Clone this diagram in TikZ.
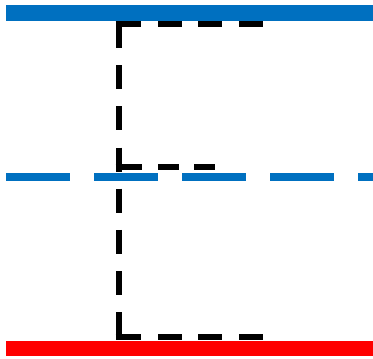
\documentclass[tikz,border=0pt]{standalone}
\usepackage{xcolor}
\definecolor{barblue}{HTML}{0070C0}
\definecolor{barred}{HTML}{FF0000}

\begin{document}
\begin{tikzpicture}[x=1pt,y=-1pt,
    bluebar/.style={draw=barblue, line width=16pt},
    bluedashed/.style={draw=barblue, line width=8pt, dash pattern=on 64pt off 24pt},
    redbar/.style={draw=barred, line width=15pt},
    vdashed/.style={draw=black, line width=6pt, dash pattern=on 24pt off 17.17pt},
    hdashed/.style={draw=black, line width=6pt,
        dash pattern=on 25.5pt off 17pt on 23.5pt off 16.5pt on 23.5pt off 17.5pt on 23.5pt off 20pt},
    mdashed/.style={draw=black, line width=6pt,
        dash pattern=on 26.5pt off 16pt on 20.5pt off 15.5pt on 20.5pt off 20pt}]
    \useasboundingbox (0,0) rectangle (373,359);

    % horizontal boundaries
    \coordinate (topW) at (6,13);
    \coordinate (topE) at (373,13);
    \coordinate (midW) at (6,177);
    \coordinate (midE) at (373,177);
    \coordinate (botW) at (6,348.5);
    \coordinate (botE) at (373,348.5);

    \draw[bluebar] (topW) -- (topE);
    \draw[bluedashed] (midW) -- (midE);
    \draw[redbar] (botW) -- (botE);

    % dashed profile
    \coordinate (vTop) at (118.5,24);
    \coordinate (vBot) at (118.5,337);
    \coordinate (hTopW) at (115.5,24);
    \coordinate (hTopE) at (262.5,24);
    \coordinate (hMidW) at (115.5,167);
    \coordinate (hMidE) at (214.5,167);
    \coordinate (hBotW) at (115.5,337);
    \coordinate (hBotE) at (262.5,337);

    \draw[vdashed] (vTop) -- (vBot);
    \draw[hdashed] (hTopW) -- (hTopE);
    \draw[mdashed] (hMidW) -- (hMidE);
    \draw[hdashed] (hBotW) -- (hBotE);
\end{tikzpicture}
\end{document}
